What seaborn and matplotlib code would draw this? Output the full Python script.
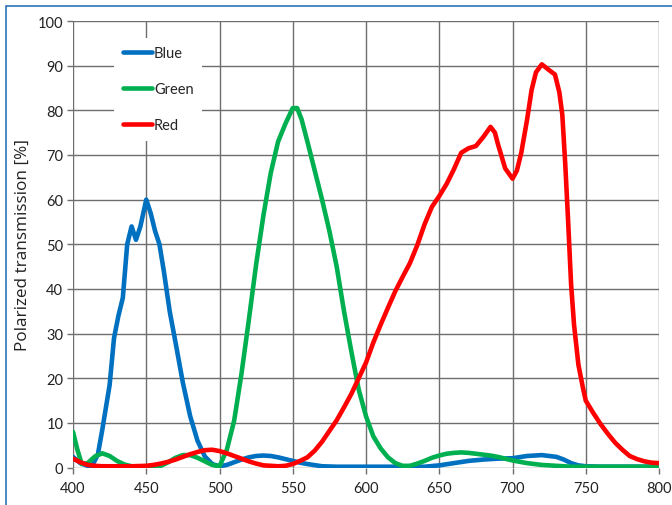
import matplotlib
matplotlib.use('Agg')
import matplotlib.pyplot as plt
import pandas as pd
import seaborn as sns
from matplotlib.lines import Line2D
from matplotlib.patches import Rectangle

# wavelength [nm] / transmission [%]
blue_x = [400, 405, 410, 413, 417, 420, 425, 428, 431, 434, 437, 440, 443, 446, 450,
          453, 456, 459, 462, 466, 470, 475, 480, 485, 490, 495, 500, 505, 510, 515,
          520, 525, 530, 535, 540, 545, 550, 555, 560, 570, 580, 600, 620, 640, 650,
          660, 670, 680, 690, 700, 710, 720, 730, 735, 740, 745, 750, 760, 780, 800]
blue_y = [2.4, 1.0, 0.4, 0.3, 3.0, 8.5, 18.5, 29, 34, 38, 50, 54, 51, 54, 60,
          57, 53, 50, 44, 35, 28, 19, 11.5, 6, 2.5, 0.8, 0.3, 0.6, 1.2, 1.8,
          2.3, 2.6, 2.7, 2.6, 2.3, 1.9, 1.5, 1.1, 0.8, 0.3, 0.2, 0.2, 0.2, 0.2, 0.5,
          1.0, 1.5, 1.8, 2.0, 2.1, 2.6, 2.8, 2.4, 1.8, 1.0, 0.5, 0.3, 0.2, 0.2, 0.2]

green_x = [400, 403, 406, 410, 415, 420, 425, 430, 435, 440, 450, 460, 465, 470, 475,
           480, 485, 490, 495, 500, 505, 510, 515, 520, 525, 530, 535, 540, 545, 550,
           553, 556, 560, 565, 570, 575, 580, 585, 590, 595, 600, 605, 610, 615, 620,
           625, 630, 635, 640, 645, 650, 655, 660, 665, 670, 675, 680, 685, 690, 695,
           700, 705, 710, 720, 730, 740, 770, 800]
green_y = [8, 4, 0.8, 1.0, 2.5, 3.2, 2.6, 1.5, 0.7, 0.3, 0.2, 0.4, 1.2, 2.2, 2.8,
           2.8, 2.2, 1.4, 0.6, 0.3, 4, 10.5, 21, 33, 45.5, 56.5, 66, 73, 77, 80.5,
           80.5, 78, 73, 66.5, 60, 53, 45, 35, 26, 17.5, 11.5, 7, 4.3, 2.3, 1.0,
           0.4, 0.4, 0.9, 1.5, 2.2, 2.7, 3.1, 3.3, 3.4, 3.3, 3.1, 2.9, 2.7, 2.4, 2.0,
           1.6, 1.3, 1.0, 0.6, 0.4, 0.2, 0.2, 0.2]

red_x = [400, 405, 410, 415, 420, 440, 450, 455, 460, 465, 470, 475, 480, 485, 490,
         495, 500, 505, 510, 515, 520, 525, 530, 535, 540, 545, 550, 555, 560, 565,
         570, 575, 580, 585, 590, 595, 600, 605, 610, 615, 620, 625, 630, 635, 640,
         645, 650, 655, 660, 665, 670, 675, 680, 685, 688, 690, 695, 700, 703, 706,
         710, 713, 716, 720, 725, 729, 732, 734, 736, 738, 740, 742, 745, 748, 750,
         755, 760, 765, 770, 775, 780, 785, 790, 795, 800]
red_y = [2.0, 1.2, 0.6, 0.4, 0.3, 0.3, 0.4, 0.6, 0.9, 1.3, 1.8, 2.4, 3.0, 3.5, 3.9,
         4.0, 3.7, 3.2, 2.6, 2.0, 1.4, 0.9, 0.5, 0.4, 0.3, 0.4, 0.8, 1.5, 2.3, 3.8,
         5.8, 8.2, 10.6, 13.5, 16.5, 20, 23.5, 28, 32, 35.8, 39.5, 42.7, 45.8, 49.8, 54.5,
         58.4, 60.8, 63.5, 66.8, 70.5, 71.5, 72, 74, 76.3, 75, 72.5, 67, 64.7, 66.5, 70.5,
         78, 84.5, 88.5, 90.3, 89, 88, 84, 79, 68, 55, 41, 32, 23, 18, 15,
         12.3, 9.8, 7.6, 5.6, 4.0, 2.6, 1.9, 1.4, 1.1, 1.0]

series_names = ['Blue', 'Green', 'Red']
series_colors = ['#0070C0', '#00B050', '#FF0000']

df = pd.concat([
    pd.DataFrame({'wl': blue_x, 'T': blue_y, 'filter': 'Blue'}),
    pd.DataFrame({'wl': green_x, 'T': green_y, 'filter': 'Green'}),
    pd.DataFrame({'wl': red_x, 'T': red_y, 'filter': 'Red'}),
])

sns.set_style('white')
plt.rcParams['font.family'] = ['Lato', 'DejaVu Sans']

fig = plt.figure(figsize=(6.72, 5.06), dpi=100)
ax = fig.add_axes([73 / 672, 1 - 468.6 / 506, (659 - 73) / 672, (468.6 - 22) / 506])

sns.lineplot(data=df, x='wl', y='T', hue='filter', palette=series_colors,
             hue_order=series_names, linewidth=3.3, sort=False, estimator=None,
             legend=False, ax=ax, zorder=3,
             solid_joinstyle='round', solid_capstyle='round')

ax.set_xlim(400, 800)
ax.set_ylim(0, 100)
ax.set_xticks(range(400, 801, 50))
ax.set_yticks(range(0, 101, 10))
ax.grid(True, color='#6e6e6e', linewidth=1.0)
ax.set_axisbelow(True)
for s in ax.spines.values():
    s.set_visible(False)
ax.tick_params(axis='both', direction='out', length=4, width=1, color='#6e6e6e',
               labelsize=10.5, labelcolor='#222222', pad=3, left=True, bottom=True)
ax.tick_params(axis='x', pad=6)
ax.set_xlabel('')
ax.set_ylabel('Polarized transmission [%]', fontsize=12.3, color='#222222', labelpad=5,
              family=['Open Sans', 'DejaVu Sans'])

handles = [Line2D([0], [0], color=c, lw=3.3, solid_capstyle='round') for c in series_colors]
leg = ax.legend(handles, series_names, loc='upper left', bbox_to_anchor=(0.07, 0.963),
                frameon=True, fontsize=10.5, handlelength=2.0, handletextpad=0.15,
                labelspacing=1.5, borderpad=0.6, borderaxespad=0)
leg.get_frame().set_facecolor('white')
leg.get_frame().set_edgecolor('none')
leg.get_frame().set_alpha(1)
leg.set_zorder(5)

# blue outer frame of the original picture
fig.patches.append(Rectangle((6 / 672, -0.02), 1.2, (506 - 7) / 506 + 0.02,
                             transform=fig.transFigure, fill=False,
                             edgecolor='#2E75B6', linewidth=1.2))

fig.savefig('out.png', dpi=100)
